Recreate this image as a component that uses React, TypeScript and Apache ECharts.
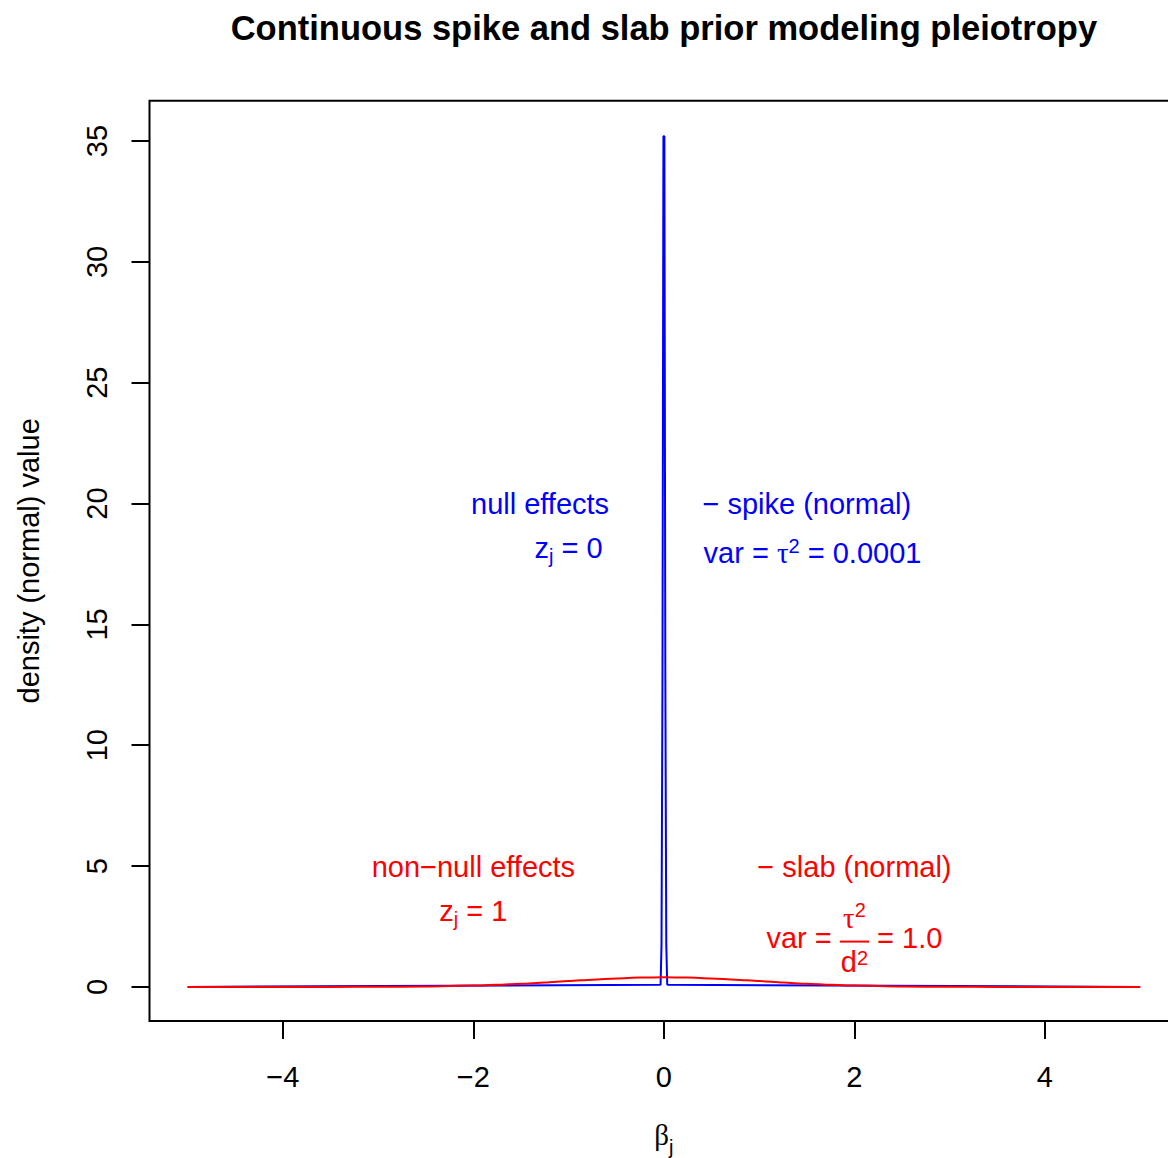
import React, { useEffect, useRef } from "react";
import * as echarts from "echarts";

// ---- data ----
const slabX = [-5, -4.5, -4, -3.5, -3, -2.5, -2, -1.75, -1.5, -1.25, -1, -0.75, -0.5, -0.25, 0, 0.25, 0.5, 0.75, 1, 1.25, 1.5, 1.75, 2, 2.5, 3, 3.5, 4, 4.5, 5];
const slabY = [0, 0, 0.0001, 0.0009, 0.0044, 0.0175, 0.054, 0.086, 0.13, 0.183, 0.242, 0.301, 0.352, 0.387, 0.399, 0.387, 0.352, 0.301, 0.242, 0.183, 0.13, 0.086, 0.054, 0.0175, 0.0044, 0.0009, 0.0001, 0, 0];
const spikeX = [-5, -0.035, -0.025, -0.015, -0.005, 0.005, 0.015, 0.025, 0.035, 5];
const spikeY = [0, 0.09, 1.75, 12.9, 35.2, 35.2, 12.9, 1.75, 0.09, 0];
const xTicks = [-4, -2, 0, 2, 4];
const yTicks = [0, 5, 10, 15, 20, 25, 30, 35];
const xRange = [-5.4, 5.4];
const yRange = [-1.41, 36.67];

const titleText = "Continuous spike and slab prior modeling pleiotropy";
const yName = "density (normal) value";

const BLUE = "#0000FF";
const RED = "#FF0000";
const SANS = "'Liberation Sans', Arial, Helvetica, sans-serif";
const SERIF = "'Liberation Serif', 'Times New Roman', serif";
const MAIN = 29;
const SMALL = 20;

type Part = { t: string; kind?: "sub" | "sup"; greek?: boolean; dy?: number };
type Note = { x: number; y: number; color: string; off: number; parts: Part[] };

// annotation anchors in data coordinates
const notes: Note[] = [
  { x: -1.3, y: 20, color: BLUE, off: 10.5, parts: [{ t: "null effects" }] },
  { x: -1.0, y: 18, color: BLUE, off: 6, parts: [{ t: "z" }, { t: "j", kind: "sub" }, { t: " = 0" }] },
  { x: 1.5, y: 20, color: BLUE, off: 10.5, parts: [{ t: "\u2212 spike (normal)" }] },
  { x: 1.56, y: 18, color: BLUE, off: 11, parts: [{ t: "var = " }, { t: "\u03c4", greek: true }, { t: "2", kind: "sup" }, { t: " = 0.0001" }] },
  { x: -2.0, y: 5, color: RED, off: 10.5, parts: [{ t: "non\u2212null effects" }] },
  { x: -2.0, y: 3, color: RED, off: 6.5, parts: [{ t: "z" }, { t: "j", kind: "sub" }, { t: " = 1" }] },
  { x: 2.0, y: 5, color: RED, off: 10.5, parts: [{ t: "\u2212 slab (normal)" }] },
];
const fracNote = {
  x: 2.0, y: 2, color: RED, off: 9.5,
  left: [{ t: "var = " }] as Part[],
  num: [{ t: "\u03c4", greek: true }, { t: "2", kind: "sup", dy: -11 }] as Part[],
  den: [{ t: "d" }, { t: "2", kind: "sup", dy: -7 }] as Part[],
  right: [{ t: " = 1.0" }] as Part[],
};

const CHART_W = 1200;
const CHART_H = 1158;

let mctx: CanvasRenderingContext2D | null = null;
function textWidth(t: string, size: number, family: string, weight = "normal") {
  if (!mctx) mctx = document.createElement("canvas").getContext("2d");
  mctx!.font = `${weight} ${size}px ${family}`;
  return mctx!.measureText(t).width;
}
const pSize = (p: Part) => (p.kind ? SMALL : MAIN);
const pFam = (p: Part) => (p.greek ? SERIF : SANS);
const pShift = (p: Part) => (p.dy !== undefined ? p.dy : p.kind === "sub" ? 5 : p.kind === "sup" ? -10 : 0);
const partsWidth = (parts: Part[]) => parts.reduce((s, p) => s + textWidth(p.t, pSize(p), pFam(p)), 0);

function textEl(text: string, x: number, y: number, size: number, family: string, color: string, align = "left", weight = "normal", rotation = 0) {
  return {
    type: "text",
    x, y, rotation,
    silent: true,
    style: {
      text, fill: color, fontSize: size, fontFamily: family, fontWeight: weight,
      align, verticalAlign: "middle", textAlign: align, textVerticalAlign: "middle",
    },
  };
}

function renderParts(parts: Part[], left: number, baseline: number, color: string, out: any[]) {
  let x = left;
  for (const p of parts) {
    const size = pSize(p), fam = pFam(p);
    const w = textWidth(p.t, size, fam);
    const lead = p.t.length - p.t.trimStart().length;
    const lw = lead ? textWidth(" ".repeat(lead), size, fam) : 0;
    const b = baseline + pShift(p);
    out.push(textEl(p.t.trim(), x + lw, b - 0.3465 * size, size, fam, color));
    x += w;
  }
  return x;
}

export default function App() {
  const ref = useRef<HTMLDivElement>(null);
  useEffect(() => {
    if (!ref.current) return;
    const chart = echarts.init(ref.current, undefined, { renderer: "svg" });
    const axisFont = { fontSize: MAIN, fontFamily: SANS, color: "#000" };
    chart.setOption({
      animation: false,
      backgroundColor: "#fff",
      grid: { left: 149.5, right: 21.7, top: 100.7, bottom: 137, show: true, borderColor: "#000", borderWidth: 2, backgroundColor: "transparent" },
      xAxis: {
        type: "value", min: xRange[0], max: xRange[1],
        axisLine: { show: false, onZero: false }, splitLine: { show: false },
        axisTick: { show: true, customValues: xTicks, length: 18, lineStyle: { color: "#000", width: 2 } },
        axisLabel: { show: true, customValues: xTicks, margin: 41, ...axisFont, formatter: (v: number) => (v < 0 ? "\u2212" + Math.abs(v) : String(v)) },
      },
      yAxis: {
        type: "value", min: yRange[0], max: yRange[1],
        axisLine: { show: false, onZero: false }, splitLine: { show: false },
        axisTick: { show: true, customValues: yTicks, length: 18, lineStyle: { color: "#000", width: 2 } },
        axisLabel: { show: true, customValues: yTicks, margin: 38, rotate: 90, ...axisFont },
      },
      series: [
        { type: "line", data: spikeX.map((x, i) => [x, spikeY[i]]), symbol: "none", lineStyle: { color: BLUE, width: 2 }, itemStyle: { color: BLUE }, z: 2 },
        { type: "line", data: slabX.map((x, i) => [x, slabY[i]]), symbol: "none", smooth: 0.3, smoothMonotone: "x", lineStyle: { color: RED, width: 2 }, itemStyle: { color: RED }, z: 3 },
      ],
    });

    const px = (x: number, y: number) => chart.convertToPixel({ gridIndex: 0 }, [x, y]) as number[];
    const els: any[] = [];
    const [cx0] = px(0, 0);
    els.push(textEl(titleText, cx0, 28, 34.5, SANS, "#000", "center", "bold"));
    const [, yMid] = px(0, (yRange[0] + yRange[1]) / 2);
    els.push(textEl(yName, 29, yMid, MAIN, SANS, "#000", "center", "normal", Math.PI / 2));
    // x axis title beta_j
    const xl: Part[] = [{ t: "\u03b2", greek: true }, { t: "j", kind: "sub", dy: 9 }];
    renderParts(xl, cx0 - partsWidth(xl) / 2, 1145, "#000", els);

    for (const n of notes) {
      const [cx, cy] = px(n.x, n.y);
      renderParts(n.parts, cx - partsWidth(n.parts) / 2, cy + n.off, n.color, els);
    }
    // fraction expression
    {
      const f = fracNote;
      const [cx, cy] = px(f.x, f.y);
      const B = cy + f.off;
      const wl = partsWidth(f.left), wr = partsWidth(f.right);
      const wn = partsWidth(f.num), wd = partsWidth(f.den);
      const wf = Math.max(wn, wd) + 2;
      const total = wl + wf + wr;
      let x = cx - total / 2;
      renderParts(f.left, x, B, f.color, els);
      x += wl;
      const barY = B - 6.5;
      els.push({ type: "line", silent: true, shape: { x1: x, y1: barY, x2: x + wf, y2: barY }, style: { stroke: f.color, lineWidth: 2 } });
      renderParts(f.num, x + (wf - wn) / 2, barY - 13.5, f.color, els);
      renderParts(f.den, x + (wf - wd) / 2, barY + 30, f.color, els);
      x += wf;
      renderParts(f.right, x, B, f.color, els);
    }
    chart.setOption({ graphic: { elements: els } });
    return () => chart.dispose();
  }, []);
  return (
    <div style={{ position: "absolute", left: 0, top: 0, width: 1168, height: 1158, overflow: "hidden" }}>
      <div ref={ref} style={{ width: CHART_W, height: CHART_H }} />
    </div>
  );
}
